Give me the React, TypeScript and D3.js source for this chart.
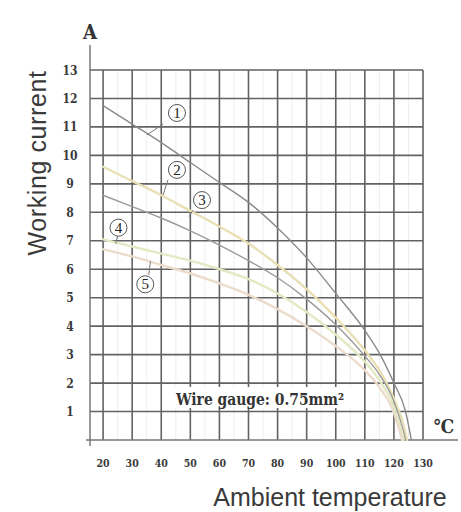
import React from "react";
import * as d3 from "d3";

const xTicks = [20, 30, 40, 50, 60, 70, 80, 90, 100, 110, 120, 130];
const yTicks = [1, 2, 3, 4, 5, 6, 7, 8, 9, 10, 11, 12, 13];

const curve1 = [[20, 11.75], [30, 11.1], [40, 10.45], [50, 9.75], [60, 9.05], [70, 8.35], [80, 7.45], [90, 6.4], [100, 5.15], [110, 3.85], [115, 3.05], [120, 2.0], [124, 1.0], [126, 0]];
const curve2 = [[20, 9.6], [30, 9.1], [40, 8.6], [50, 8.05], [60, 7.5], [70, 6.9], [80, 6.15], [90, 5.3], [100, 4.3], [110, 3.15], [115, 2.45], [120, 1.45], [123.5, 0.45], [124.5, 0]];
const curve3 = [[20, 8.6], [30, 8.2], [40, 7.8], [50, 7.35], [60, 6.85], [70, 6.3], [80, 5.7], [90, 4.95], [100, 4.05], [110, 2.95], [115, 2.3], [120, 1.35], [123, 0.4], [124, 0]];
const curve4 = [[20, 7.05], [30, 6.8], [40, 6.55], [50, 6.3], [60, 6.0], [70, 5.65], [80, 5.15], [90, 4.5], [100, 3.7], [110, 2.75], [115, 2.1], [120, 1.15], [122.5, 0.35], [123.3, 0]];
const curve5 = [[20, 6.7], [30, 6.45], [40, 6.15], [50, 5.85], [60, 5.5], [70, 5.1], [80, 4.6], [90, 4.0], [100, 3.3], [110, 2.45], [115, 1.85], [120, 0.95], [122, 0.3], [122.8, 0]];

const curves = [
  { id: 1, data: curve1, color: "#8a8a8a", width: 1.4 },
  { id: 2, data: curve2, color: "#e8e0b4", width: 2.4 },
  { id: 3, data: curve3, color: "#9a9a9a", width: 1.4 },
  { id: 4, data: curve4, color: "#e3e9c2", width: 2.4 },
  { id: 5, data: curve5, color: "#ebdccb", width: 2.4 },
];

// circled labels: [temp, current] of circle centre, leader from, leader to
const labelNames = ["1", "2", "3", "4", "5"];
const labelCentres = [[45.4, 11.49], [45.4, 9.49], [54, 8.43], [25.3, 7.46], [34.5, 5.47]];
const leaderFrom = [[40.6, 11.1], [42.3, 9.14], [50.9, 8.08], [25.0, 7.17], [35.7, 5.8]];
const leaderTo = [[35.1, 10.72], [40.6, 8.6], [49.6, 7.85], [24.3, 6.9], [36.3, 6.28]];

const xMinor = [25, 35, 45, 55, 65, 75, 85, 95, 105, 115, 125];

export default function App() {
  const W = 461, H = 512;
  const x = d3.scaleLinear().domain([15.5, 130]).range([90, 423]);
  const y = d3.scaleLinear().domain([0, 13]).range([440, 70]);
  const line = d3
    .line<number[]>()
    .x((d) => x(d[0]))
    .y((d) => y(d[1]))
    .curve(d3.curveMonotoneX);

  const gridColor = "#626262";
  const tickFont = "'DejaVu Serif Condensed', 'DejaVu Serif', serif";

  return (
    <svg width={W} height={H} style={{ position: "absolute", left: 0, top: 0, background: "#fff" }}>
      <rect x={0} y={0} width={W} height={H} fill="#fff" />
      {/* faint minor grid */}
      {xMinor.map((v) => (
        <line key={"xm" + v} x1={x(v)} x2={x(v)} y1={y(13)} y2={y(0)} stroke="#eeeeee" strokeWidth={1} />
      ))}
      {/* horizontal grid */}
      {yTicks.map((v) => (
        <line key={"yg" + v} x1={x(15.5)} x2={x(130)} y1={y(v)} y2={y(v)} stroke={gridColor} strokeWidth={1.6} />
      ))}
      {/* vertical grid */}
      {xTicks.map((v) => (
        <line key={"xg" + v} x1={x(v)} x2={x(v)} y1={y(13)} y2={y(0)} stroke={gridColor} strokeWidth={1.6} />
      ))}
      {/* axes */}
      <line x1={x(15.5)} x2={x(15.5)} y1={45} y2={446} stroke="#777" strokeWidth={1.5} />
      <line x1={86} x2={458} y1={y(0)} y2={y(0)} stroke="#777" strokeWidth={1.5} />

      {/* curves */}
      {curves.map((c) => (
        <path key={"c" + c.id} d={line(c.data) || ""} fill="none" stroke={c.color} strokeWidth={c.width} strokeLinecap="round" />
      ))}

      {/* wire gauge box */}
      <rect x={171} y={387} width={180} height={21} fill="#fff" />
      <text x={176} y={405} fontFamily={tickFont} fontWeight="bold" fontSize={16} fill="#333" textLength={168} lengthAdjust="spacingAndGlyphs">
        Wire gauge: 0.75mm²
      </text>

      {/* leaders and circled labels */}
      {labelNames.map((n, i) => (
        <g key={"lab" + n}>
          <line x1={x(leaderFrom[i][0])} y1={y(leaderFrom[i][1])} x2={x(leaderTo[i][0])} y2={y(leaderTo[i][1])} stroke="#777" strokeWidth={1} />
          <circle cx={x(labelCentres[i][0])} cy={y(labelCentres[i][1])} r={8.5} fill="#fff" stroke="#555" strokeWidth={1} />
          <text x={x(labelCentres[i][0])} y={y(labelCentres[i][1]) + 5} textAnchor="middle" fontFamily="'Liberation Serif', serif" fontSize={15} fill="#222">
            {n}
          </text>
        </g>
      ))}

      {/* y ticks */}
      {yTicks.map((v) => (
        <text key={"yt" + v} x={70} y={y(v) + 4.5} textAnchor="middle" fontFamily={tickFont} fontWeight="bold" fontSize={12} fill="#3a3a3a">
          {v}
        </text>
      ))}
      {/* x ticks */}
      {xTicks.map((v) => (
        <text key={"xt" + v} x={x(v)} y={467} textAnchor="middle" fontFamily={tickFont} fontWeight="bold" fontSize={10.5} fill="#3a3a3a">
          {v}
        </text>
      ))}

      {/* unit labels */}
      <text x={x(15.5)} y={39} textAnchor="middle" fontFamily={tickFont} fontWeight="bold" fontSize={20} fill="#333">A</text>
      <text x={444} y={433} textAnchor="middle" fontFamily="'DejaVu Serif Condensed', serif" fontWeight="bold" fontSize={19} fill="#333">℃</text>

      {/* axis titles */}
      <text transform={`translate(46, 163) rotate(-90)`} textAnchor="middle" fontFamily="'Liberation Sans', Arial, sans-serif" fontSize={25} fill="#3a3a3a" letterSpacing={0.6}>
        Working current
      </text>
      <text x={330} y={506} textAnchor="middle" fontFamily="'Liberation Sans', Arial, sans-serif" fontSize={25} fill="#3a3a3a">
        Ambient temperature
      </text>
    </svg>
  );
}
